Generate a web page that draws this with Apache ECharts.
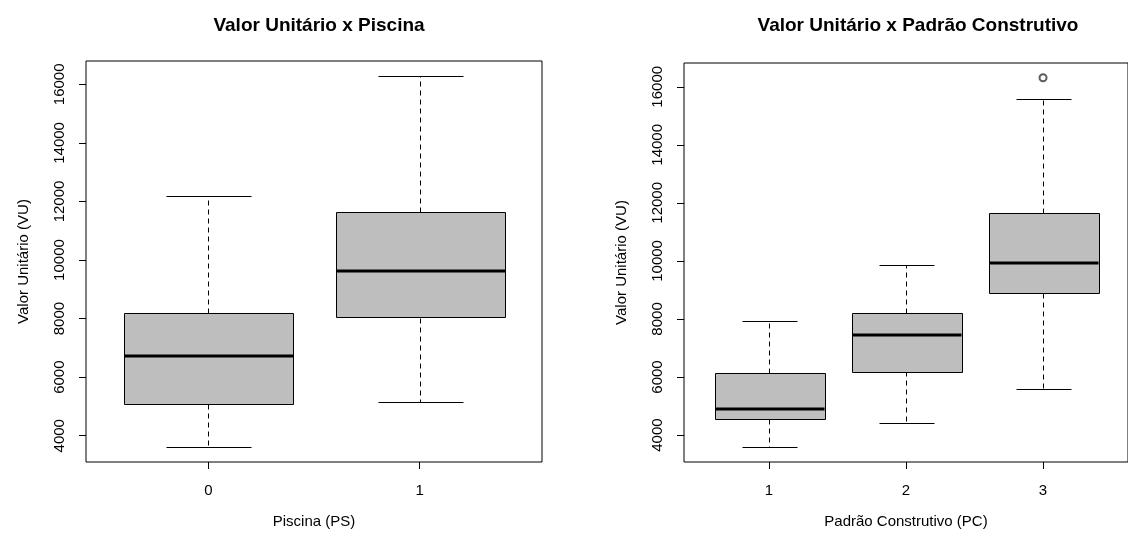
<!DOCTYPE html>
<html>
<head>
<meta charset="utf-8">
<script src="https://cdn.jsdelivr.net/npm/echarts@6/dist/echarts.min.js"></script>
<style>
  html, body { margin: 0; padding: 0; background: #fff; }
  #chart { width: 1128px; height: 538px; }
</style>
</head>
<body>
<div id="chart"></div>
<script>
// Valor Unitário x Piscina
var psCategories = ['0', '1'];
var psLow = [3610, 5140];
var psQ1 = [5100, 8030];
var psMedian = [6720, 9620];
var psQ3 = [8200, 11630];
var psHigh = [12190, 16290];

// Valor Unitário x Padrão Construtivo
var pcCategories = ['1', '2', '3'];
var pcLow = [3580, 4420, 5600];
var pcQ1 = [4560, 6190, 8880];
var pcMedian = [4910, 7440, 9920];
var pcQ3 = [6130, 8220, 11650];
var pcHigh = [7920, 9850, 15590];
var pcOutlierCat = [3];
var pcOutlierVal = [16310];

var yTicks = [4000, 6000, 8000, 10000, 12000, 14000, 16000];

var FONT = '"Liberation Sans", Arial, sans-serif';

// R-style axis range: data range padded 4% each side
function padRange(lo, hi) {
  var d = (hi - lo) * 0.04;
  return [lo - d, hi + d];
}

function boxRows(low, q1, med, q3, high) {
  return low.map(function (v, i) {
    return [i + 1, low[i], q1[i], med[i], q3[i], high[i]];
  });
}

function px(v) { return Math.round(v) + 0.5; }

function renderBox(params, api) {
  var x = api.value(0);
  var half = api.size([0.8, 0])[0] / 2;
  var capHalf = half / 2;
  var low = api.coord([x, api.value(1)]);
  var q1 = api.coord([x, api.value(2)]);
  var med = api.coord([x, api.value(3)]);
  var q3 = api.coord([x, api.value(4)]);
  var high = api.coord([x, api.value(5)]);
  var cx = px(low[0]);
  var dash = { stroke: '#000', lineWidth: 1, lineDash: [5, 4] };
  var solid = { stroke: '#000', lineWidth: 1 };
  return {
    type: 'group',
    children: [
      { type: 'line', shape: { x1: cx, y1: px(q3[1]), x2: cx, y2: px(high[1]) }, style: dash },
      { type: 'line', shape: { x1: cx, y1: px(q1[1]), x2: cx, y2: px(low[1]) }, style: dash },
      { type: 'line', shape: { x1: px(cx - capHalf), y1: px(high[1]), x2: px(cx + capHalf), y2: px(high[1]) }, style: solid },
      { type: 'line', shape: { x1: px(cx - capHalf), y1: px(low[1]), x2: px(cx + capHalf), y2: px(low[1]) }, style: solid },
      {
        type: 'rect',
        shape: { x: px(cx - half), y: px(q3[1]), width: Math.round(2 * half), height: Math.round(q1[1] - q3[1]) },
        style: { fill: '#bebebe', stroke: '#000', lineWidth: 1 }
      },
      { type: 'line', shape: { x1: px(cx - half), y1: Math.round(med[1]), x2: px(cx + half), y2: Math.round(med[1]) }, style: { stroke: '#000', lineWidth: 3 } }
    ]
  };
}

function xAxisFor(cats, gridIndex, name) {
  var n = cats.length;
  var ticks = cats.map(function (c, i) { return i + 1; });
  return {
    type: 'value',
    gridIndex: gridIndex,
    min: 0.5 - 0.04 * n,
    max: n + 0.5 + 0.04 * n,
    name: name,
    nameLocation: 'middle',
    nameGap: 52,
    nameTextStyle: { fontFamily: FONT, fontSize: 15, color: '#000' },
    axisLine: { show: false },
    splitLine: { show: false },
    axisTick: { show: true, inside: false, length: 7, customValues: ticks, lineStyle: { color: '#000' } },
    axisLabel: {
      customValues: ticks,
      margin: 21,
      fontFamily: FONT, fontSize: 15, color: '#000',
      formatter: function (v) { return cats[Math.round(v) - 1]; }
    }
  };
}

function yAxisFor(range, gridIndex) {
  return {
    type: 'value',
    gridIndex: gridIndex,
    min: range[0],
    max: range[1],
    name: 'Valor Unitário (VU)',
    nameLocation: 'middle',
    nameRotate: 90,
    nameGap: 55,
    nameTextStyle: { fontFamily: FONT, fontSize: 15, color: '#000' },
    axisLine: { show: false },
    splitLine: { show: false },
    axisTick: { show: true, length: 7, customValues: yTicks, lineStyle: { color: '#000' } },
    axisLabel: {
      customValues: yTicks,
      rotate: 90,
      margin: 19,
      fontFamily: FONT, fontSize: 15, color: '#000',
      formatter: function (v) { return String(Math.round(v)); }
    }
  };
}

var psRange = padRange(Math.min.apply(null, psLow), Math.max.apply(null, psHigh));
var pcRange = padRange(Math.min.apply(null, pcLow), Math.max.apply(null, pcHigh.concat(pcOutlierVal)));

var chart = echarts.init(document.getElementById('chart'), null, { renderer: 'canvas' });

var option = {
  backgroundColor: '#fff',
  animation: false,
  title: [
    {
      text: 'Valor Unitário x Piscina',
      left: 314, top: 11, textAlign: 'center',
      textStyle: { fontFamily: FONT, fontSize: 19, fontWeight: 'bold', color: '#000' }
    },
    {
      text: 'Valor Unitário x Padrão Construtivo',
      left: 913, top: 11, textAlign: 'center',
      textStyle: { fontFamily: FONT, fontSize: 19, fontWeight: 'bold', color: '#000' }
    }
  ],
  grid: [
    { left: 86, top: 61, width: 456, height: 401, show: true, borderColor: '#000', borderWidth: 1, backgroundColor: 'transparent' },
    { left: 684, top: 63, width: 458, height: 399, show: true, borderColor: '#000', borderWidth: 1, backgroundColor: 'transparent' }
  ],
  xAxis: [
    xAxisFor(psCategories, 0, 'Piscina (PS)'),
    xAxisFor(pcCategories, 1, 'Padrão Construtivo (PC)')
  ],
  yAxis: [
    yAxisFor(psRange, 0),
    yAxisFor(pcRange, 1)
  ],
  series: [
    {
      type: 'custom',
      xAxisIndex: 0, yAxisIndex: 0,
      renderItem: renderBox,
      encode: { x: 0, y: [1, 2, 3, 4, 5] },
      data: boxRows(psLow, psQ1, psMedian, psQ3, psHigh)
    },
    {
      type: 'custom',
      xAxisIndex: 1, yAxisIndex: 1,
      renderItem: renderBox,
      encode: { x: 0, y: [1, 2, 3, 4, 5] },
      data: boxRows(pcLow, pcQ1, pcMedian, pcQ3, pcHigh)
    },
    {
      type: 'scatter',
      xAxisIndex: 1, yAxisIndex: 1,
      symbol: 'emptyCircle',
      symbolSize: 7,
      itemStyle: { color: '#333', borderWidth: 0.8 },
      data: pcOutlierCat.map(function (c, i) { return [c, pcOutlierVal[i]]; })
    }
  ]
};

chart.setOption(option);
</script>
</body>
</html>
